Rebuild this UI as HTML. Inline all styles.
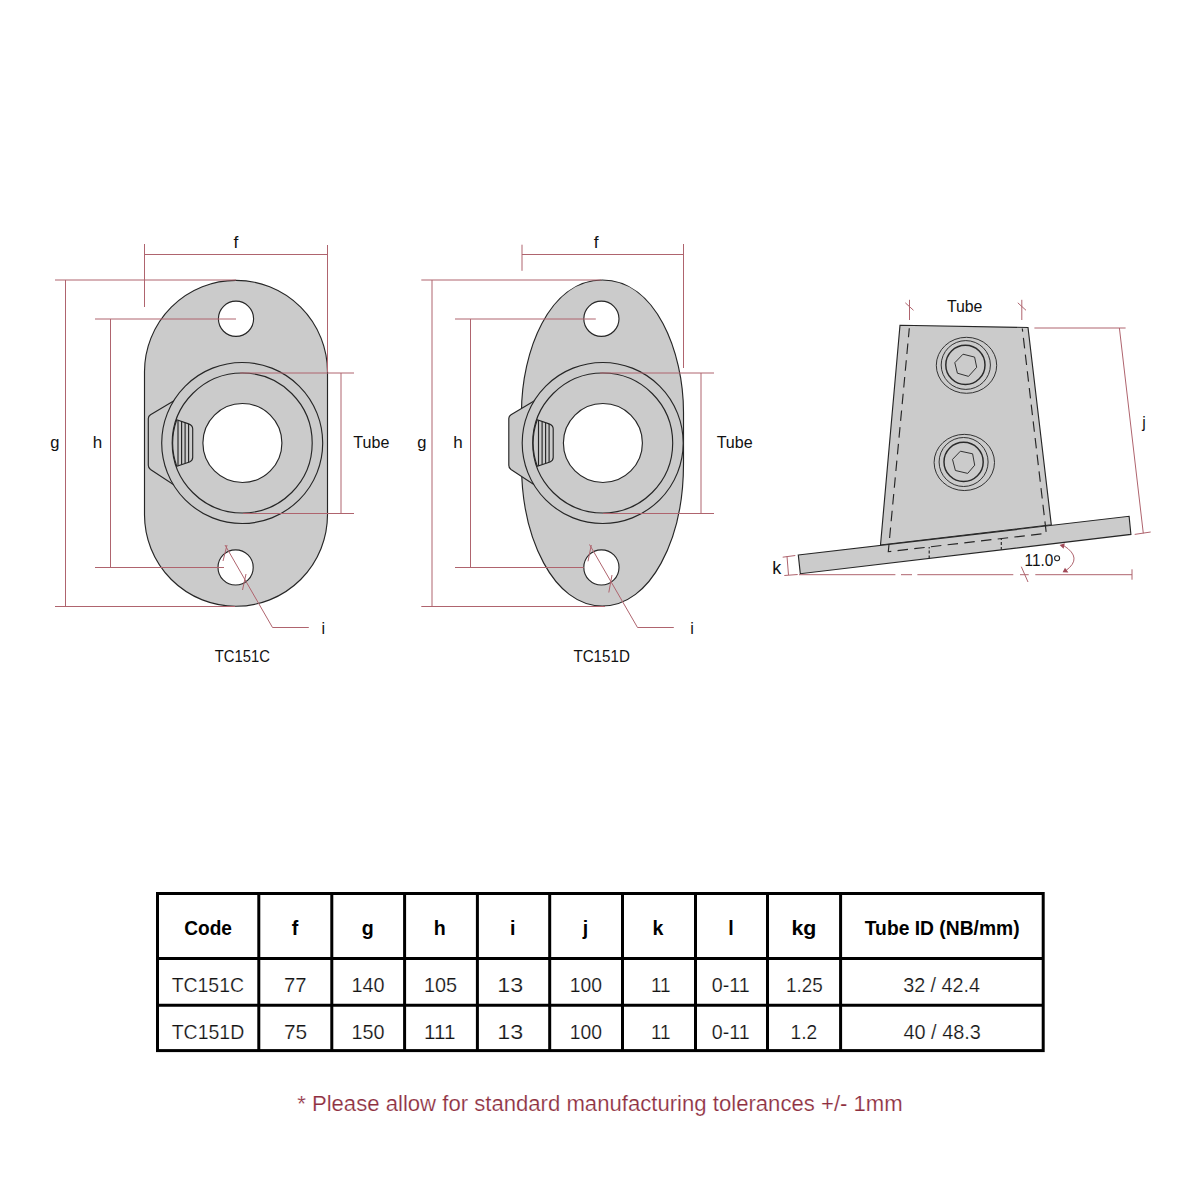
<!DOCTYPE html>
<html>
<head>
<meta charset="utf-8">
<style>
html,body{margin:0;padding:0;background:#fff;}
body{width:1200px;height:1200px;overflow:hidden;position:relative;font-family:"Liberation Sans",sans-serif;}
svg{position:absolute;left:0;top:0;}
.r{stroke:#af646e;stroke-width:1;fill:none;}
.o{stroke:#262626;stroke-width:1.15;}
.t{font-family:"Liberation Sans",sans-serif;}
text{fill:#111;}
.lt{stroke:#fff;stroke-width:0.2;paint-order:normal;}
</style>
</head>
<body>
<svg width="1200" height="1200" viewBox="0 0 1200 1200">
<defs>
  <g id="ring">
    <path class="o" fill="#cbcbcb" d="M174.4 400.5 L150.5 414.8 Q148.3 416.2 148.3 418.6 L148.3 465.2 Q148.3 467.8 150.5 469.5 L174.4 485.3 Z"/>
    <circle class="o" fill="#cbcbcb" cx="242.2" cy="443" r="80.5"/>
    <circle class="o" fill="none" cx="242.2" cy="443" r="70"/>
    <path class="o" fill="#cbcbcb" d="M176.7 419.8 L188.6 423.9 Q192.7 425.5 192.7 428.7 L192.7 457.6 Q192.7 460.6 189.5 462 L176.7 466.2 A70 70 0 0 1 176.7 419.8 Z"/>
    <path class="o" fill="none" d="M178 420.3 V465.7 M181.6 421.5 V464.5 M185.1 422.7 V463.3 M188.6 423.9 V462.1"/>
    <circle class="o" fill="#fff" cx="242.4" cy="443" r="39.5"/>
  </g>
</defs>

<!-- ============ Drawing 1: TC151C ============ -->
<path class="o" fill="#cbcbcb" d="M144.5 371.8 A91.5 91.5 0 0 1 327.5 371.8 L327.5 514.8 A91.5 91.5 0 0 1 144.5 514.8 Z"/>
<circle class="o" fill="#fff" cx="236" cy="318.8" r="17.6"/>
<circle class="o" fill="#fff" cx="235.6" cy="567.4" r="17.6"/>
<use href="#ring"/>
<g class="r">
  <path d="M144.5 254.5 H327.5 M144.5 244 V307 M327.5 245 V372"/>
  <path d="M55 280 H236 M55 606.5 H235 M65.5 280 V606.5"/>
  <path d="M95 319 H236 M95 567.5 H224 M110.5 319 V567.5"/>
  <path d="M240 373 H354 M243 513.5 H354 M341 373 V513.5"/>
  <path d="M225 545 L272.5 627.5 H308.8 M227 545 L223 561 M246 574 L242.5 590"/>
</g>

<!-- ============ Drawing 2: TC151D ============ -->
<path class="o" fill="#cbcbcb" d="M602.3 280 C655.8 280 683.5 352 683.5 412.3 L683.5 463.8 C683.5 539.1 650.9 606 602.3 606 C553.9 606 521.5 539.1 521.5 463.8 L521.5 412.3 C521.5 352 549 280 602.3 280 Z"/>
<circle class="o" fill="#fff" cx="601.4" cy="318.8" r="17.6"/>
<circle class="o" fill="#fff" cx="601.4" cy="567.4" r="17.6"/>
<use href="#ring" transform="translate(360.5 0)"/>
<g class="r">
  <path d="M522 254.5 H683.5 M522 244.7 V270.8 M683.5 244 V368"/>
  <path d="M421.3 280 H601 M421.3 606.5 H605 M432 280 V606.5"/>
  <path d="M455 319 H595.8 M455 567.5 H583.8 M470.5 319 V567.5"/>
  <path d="M600 373 H714 M603 513.5 H714 M701 373 V513.5"/>
  <path d="M589.5 544.5 L637.5 627.5 H673.8 M591.3 545 L588 561.3 M612 575 L608.8 592.5"/>
</g>

<!-- ============ Drawing 3: side view ============ -->
<path class="o" fill="#cbcbcb" d="M900 325.3 L1028 327.5 L1051.3 524.8 L880.5 545 Z"/>
<path class="o" fill="#cbcbcb" d="M798.3 555 L1129.1 516.3 L1130.9 534.4 L800.3 573.7 Z"/>
<g class="o" fill="none" stroke-dasharray="10.5 6.3" stroke-dashoffset="1.5">
  <path d="M909.3 328.3 L888.3 551.7 L1046.3 533.3 L1022.3 328.5"/>
  <path d="M929.2 546.9 V558.4 M1001.3 538.5 V549.8" stroke-dasharray="3 2"/>
</g>
<g fill="none" stroke="#2a2a2a">
  <ellipse stroke-width="0.95" cx="966.5" cy="365.3" rx="30.2" ry="28"/>
  <ellipse stroke-width="0.95" cx="965.8" cy="365" rx="24.6" ry="24.4"/>
  <circle stroke-width="1.45" cx="965.4" cy="364.9" r="19.6"/>
  <path stroke-width="0.95" d="M963 354.2 L974.6 357.1 L976.7 367.3 L968.5 376.4 L957.4 373.2 L954.8 362.7 Z"/>
  <ellipse stroke-width="0.95" cx="964.3" cy="462.45" rx="30.2" ry="28.1"/>
  <ellipse stroke-width="0.95" cx="963.6" cy="462" rx="24.5" ry="24.5"/>
  <circle stroke-width="1.45" cx="963.6" cy="461.9" r="19.6"/>
  <path stroke-width="0.95" d="M960.4 451.2 L972.6 453.8 L974.7 465.2 L967.7 473.4 L955.4 470.5 L952.5 459.4 Z"/>
</g>
<g class="r">
  <path d="M909.5 299.8 V320 M905.3 302.8 L913.5 310.3 M1021.8 299.8 V320 M1017.8 302.8 L1026 310.3"/>
  <path d="M1034.4 328 H1125.6 M1119.4 328 L1143.3 533.3 M1134.7 534.4 L1150.7 532"/>
  <path d="M787 556.3 L788.5 575 M782.7 557.2 L795.3 555.5 M784.3 575.5 L797.7 574.5"/>
  <path d="M799 574.7 H895.4 M901 574.7 H912 M917.4 574.7 H1013.3 M1020 574.7 H1028.7 M1035.3 574.7 H1132 M1132 569.3 V579.7 M1021.3 566.7 L1028 582"/>
  <path d="M1064 545.8 Q1083 558 1066 570.5"/>
  <path style="fill:#a04a58;stroke:none" d="M1059.6 545 L1064.8 543.2 L1063.6 548.8 Z M1062.6 572.2 L1065 567.8 L1068.4 572.6 Z"/>
  <circle cx="1057.1" cy="558.2" r="2.5" style="stroke:#222;stroke-width:1.1"/>
</g>

<!-- ============ Table ============ -->
<g stroke="#000" stroke-width="3" fill="none">
  <rect x="157.5" y="893.5" width="885.7" height="157.1"/>
  <path d="M157.5 958.5 H1043.2 M157.5 1005.3 H1043.2"/>
  <path d="M258.8 893.5 V1050.6 M331.8 893.5 V1050.6 M404.6 893.5 V1050.6 M477.4 893.5 V1050.6 M549.7 893.5 V1050.6 M622.5 893.5 V1050.6 M695.5 893.5 V1050.6 M767.5 893.5 V1050.6 M840.6 893.5 V1050.6"/>
</g>
<text x="233.45" y="247.6" font-size="17.4">f</text>
<text x="50.30" y="448" font-size="16.5">g</text>
<text x="92.74" y="448.3" font-size="17">h</text>
<text x="353.34" y="448.3" font-size="16.9" textLength="36.06" lengthAdjust="spacingAndGlyphs">Tube</text>
<text x="321.45" y="633.75" font-size="16.2">i</text>
<text x="214.77" y="661.9" font-size="17.3" textLength="55.1" lengthAdjust="spacingAndGlyphs">TC151C</text>
<text x="593.75" y="247.6" font-size="17.4">f</text>
<text x="417.30" y="448" font-size="16.5">g</text>
<text x="453.14" y="448.3" font-size="17">h</text>
<text x="716.64" y="448.3" font-size="16.9" textLength="36.06" lengthAdjust="spacingAndGlyphs">Tube</text>
<text x="690.20" y="633.75" font-size="16.2">i</text>
<text x="573.41" y="661.9" font-size="17.3" textLength="56.42" lengthAdjust="spacingAndGlyphs">TC151D</text>
<text x="946.9" y="311.75" font-size="16.4" textLength="35.54" lengthAdjust="spacingAndGlyphs">Tube</text>
<text x="1142.37" y="427.5" font-size="15.8">j</text>
<text x="772.13" y="573.8" font-size="18">k</text>
<text x="1024.58" y="565.7" font-size="16.6" textLength="28.7" lengthAdjust="spacingAndGlyphs">11.0</text>
<text x="184.22" y="935.4" font-size="19.6" textLength="47.74" lengthAdjust="spacingAndGlyphs" font-weight="bold" style="fill:#000">Code</text>
<text x="291.67" y="935.4" font-size="19.6" font-weight="bold" style="fill:#000">f</text>
<text x="361.70" y="935.4" font-size="19.6" font-weight="bold" style="fill:#000">g</text>
<text x="433.63" y="935.4" font-size="19.6" font-weight="bold" style="fill:#000">h</text>
<text x="509.88" y="935.4" font-size="19.6" font-weight="bold" style="fill:#000">i</text>
<text x="582.81" y="935.4" font-size="19.6" font-weight="bold" style="fill:#000">j</text>
<text x="652.38" y="935.4" font-size="19.6" font-weight="bold" style="fill:#000">k</text>
<text x="728.13" y="935.4" font-size="19.6" font-weight="bold" style="fill:#000">l</text>
<text x="791.51" y="935.4" font-size="19.6" textLength="24.92" lengthAdjust="spacingAndGlyphs" font-weight="bold" style="fill:#000">kg</text>
<text x="864.79" y="935.4" font-size="19.6" textLength="154.76" lengthAdjust="spacingAndGlyphs" font-weight="bold" style="fill:#000">Tube ID (NB/mm)</text>
<text x="171.66" y="992.1" font-size="20.8" textLength="72.38" lengthAdjust="spacingAndGlyphs" style="fill:#151515" class="lt">TC151C</text>
<text x="283.96" y="992.1" font-size="20.8" textLength="22.56" lengthAdjust="spacingAndGlyphs" style="fill:#151515" class="lt">77</text>
<text x="351.49" y="992.1" font-size="20.8" textLength="33.03" lengthAdjust="spacingAndGlyphs" style="fill:#151515" class="lt">140</text>
<text x="423.99" y="992.1" font-size="20.8" textLength="33.09" lengthAdjust="spacingAndGlyphs" style="fill:#151515" class="lt">105</text>
<text x="497.29" y="992.1" font-size="20.8" textLength="25.91" lengthAdjust="spacingAndGlyphs" style="fill:#151515" class="lt">13</text>
<text x="569.78" y="992.1" font-size="20.8" textLength="32.23" lengthAdjust="spacingAndGlyphs" style="fill:#151515" class="lt">100</text>
<text x="650.93" y="992.1" font-size="20.8" textLength="19.67" lengthAdjust="spacingAndGlyphs" style="fill:#151515" class="lt">11</text>
<text x="711.76" y="992.1" font-size="20.8" textLength="37.91" lengthAdjust="spacingAndGlyphs" style="fill:#151515" class="lt">0-11</text>
<text x="786.06" y="992.1" font-size="20.8" textLength="36.73" lengthAdjust="spacingAndGlyphs" style="fill:#151515" class="lt">1.25</text>
<text x="903.15" y="992.1" font-size="20.8" textLength="76.93" lengthAdjust="spacingAndGlyphs" style="fill:#151515" class="lt">32 / 42.4</text>
<text x="171.66" y="1038.7" font-size="20.8" textLength="72.57" lengthAdjust="spacingAndGlyphs" style="fill:#151515" class="lt">TC151D</text>
<text x="283.93" y="1038.7" font-size="20.8" textLength="23.19" lengthAdjust="spacingAndGlyphs" style="fill:#151515" class="lt">75</text>
<text x="351.49" y="1038.7" font-size="20.8" textLength="33.03" lengthAdjust="spacingAndGlyphs" style="fill:#151515" class="lt">150</text>
<text x="424.07" y="1038.7" font-size="20.8" textLength="31.35" lengthAdjust="spacingAndGlyphs" style="fill:#151515" class="lt">111</text>
<text x="497.29" y="1038.7" font-size="20.8" textLength="25.91" lengthAdjust="spacingAndGlyphs" style="fill:#151515" class="lt">13</text>
<text x="569.78" y="1038.7" font-size="20.8" textLength="32.23" lengthAdjust="spacingAndGlyphs" style="fill:#151515" class="lt">100</text>
<text x="650.93" y="1038.7" font-size="20.8" textLength="19.67" lengthAdjust="spacingAndGlyphs" style="fill:#151515" class="lt">11</text>
<text x="711.76" y="1038.7" font-size="20.8" textLength="37.91" lengthAdjust="spacingAndGlyphs" style="fill:#151515" class="lt">0-11</text>
<text x="790.54" y="1038.7" font-size="20.8" textLength="26.68" lengthAdjust="spacingAndGlyphs" style="fill:#151515" class="lt">1.2</text>
<text x="903.44" y="1038.7" font-size="20.8" textLength="77.43" lengthAdjust="spacingAndGlyphs" style="fill:#151515" class="lt">40 / 48.3</text>
<text x="297.14" y="1110.8" font-size="22.3" textLength="605.61" lengthAdjust="spacingAndGlyphs" style="fill:#8e2f3f" class="lt">* Please allow for standard manufacturing tolerances +/- 1mm</text>
</svg>
</body>
</html>
